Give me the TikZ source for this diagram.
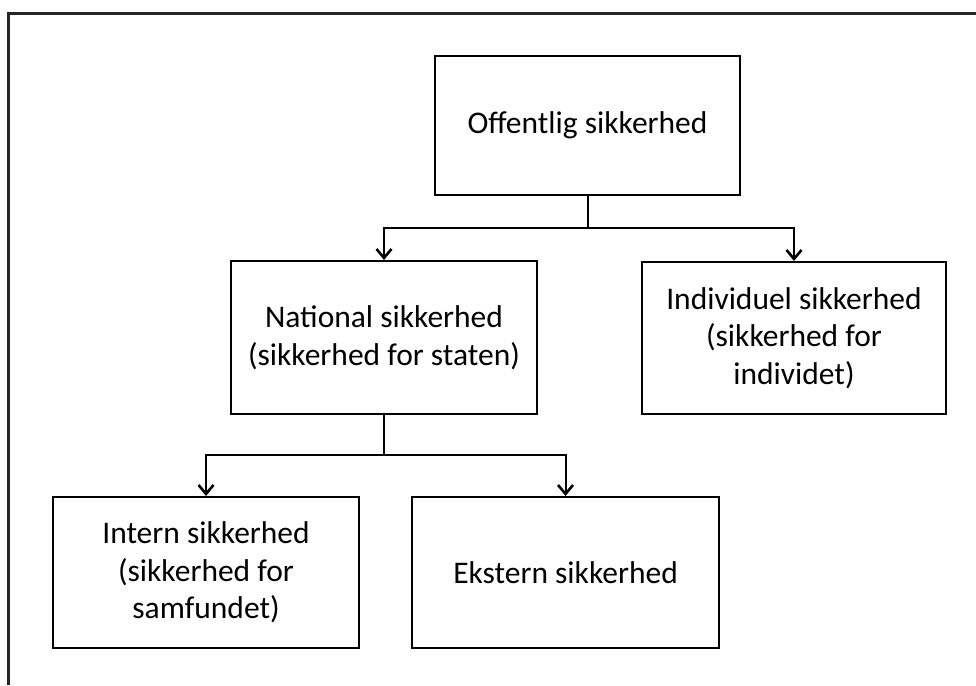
\documentclass[tikz,border=0pt]{standalone}
\usepackage{fontspec}
\setmainfont{Carlito}
\usetikzlibrary{arrows.meta}
\begin{document}
\begin{tikzpicture}[x=1pt,y=-1pt,
  box/.style={draw=black, line width=2pt, align=center, inner sep=0pt,
    font=\fontsize{31.5}{37.5}\selectfont, text=black},
  link/.style={draw=black, line width=2pt},
  arr/.style={link, -{Straight Barb[length=9pt,width=15pt,line width=2.6pt]}}]
\useasboundingbox (0,0) rectangle (976,685);
\fill[white] (0,0) rectangle (976,685);
% outer frame (only top and left edges fall inside the page)
\draw[line width=2.6pt, black!85] (976,13.5) -- (8.5,13.5) -- (8.5,685);

% boxes
\node[box, minimum width=305pt, minimum height=139pt] (off) at (587.5,125.5) {Offentlig sikkerhed};
\node[box, minimum width=306pt, minimum height=153pt] (nat) at (384,337.5) {National sikkerhed\\(sikkerhed for staten)};
\node[box, minimum width=304pt, minimum height=152pt] (ind) at (794,338) {Individuel sikkerhed\\(sikkerhed for\\individet)};
\node[box, minimum width=306pt, minimum height=151pt] (int) at (206,572.5) {Intern sikkerhed\\(sikkerhed for\\samfundet)};
\node[box, minimum width=307pt, minimum height=151pt] (eks) at (565.5,572.5) {Ekstern sikkerhed};

% junctions
\coordinate (j1) at (587.5,228);
\coordinate (j2) at (384,455);

% connectors
\draw[link] (off.south) -- (j1);
\draw[arr] (j1) -| (nat.north);
\draw[arr] (j1) -| (ind.north);
\draw[link] (nat.south) -- (j2);
\draw[arr] (j2) -| (int.north);
\draw[arr] (j2) -| (eks.north);
\end{tikzpicture}
\end{document}
